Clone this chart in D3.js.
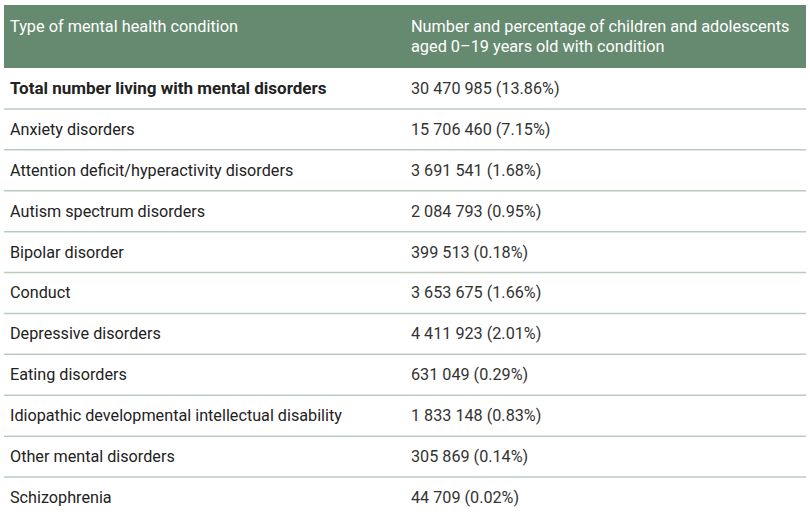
<!DOCTYPE html><html><head><meta charset="utf-8"><script src="https://cdn.jsdelivr.net/npm/d3@7"></script>
<style>body{margin:0;background:#fff}</style></head><body><svg id="c" width="810" height="520"></svg>
<script>
const headers = ["Type of mental health condition", ["Number and percentage of children and adolescents","aged 0–19 years old with condition"]];
const conditions = ["Total number living with mental disorders","Anxiety disorders","Attention deficit/hyperactivity disorders","Autism spectrum disorders","Bipolar disorder","Conduct","Depressive disorders","Eating disorders","Idiopathic developmental intellectual disability","Other mental disorders","Schizophrenia"];
const counts = ["30 470 985","15 706 460","3 691 541","2 084 793","399 513","3 653 675","4 411 923","631 049","1 833 148","305 869","44 709"];
const percents = ["13.86%","7.15%","1.68%","0.95%","0.18%","1.66%","2.01%","0.29%","0.83%","0.14%","0.02%"];
const svg = d3.select("#c");
const font = "Roboto, 'Open Sans', sans-serif";
svg.append("rect").attr("x",4).attr("y",5).attr("width",802).attr("height",63).attr("fill","#668a6f");
svg.append("text").attr("x",10).attr("y",32).attr("fill","#fff").attr("font-family",font).attr("font-size",16.3).text(headers[0]);
headers[1].forEach((t,i)=>svg.append("text").attr("x",411).attr("y",32+i*20).attr("fill","#fff").attr("font-family",font).attr("font-size",16.3).text(t));
const y = d3.scaleBand().domain(d3.range(conditions.length)).range([68,518]);
const g = svg.selectAll("g.row").data(conditions).join("g").attr("transform",(d,i)=>`translate(0,${y(i)})`);
g.append("text").attr("x",10).attr("y",y.bandwidth()/2+5.5).attr("font-family",font).attr("font-size",(d,i)=>i===0?17:16.2)
 .attr("fill","#222").attr("font-weight",(d,i)=>i===0?"bold":null).text(d=>d);
g.append("text").attr("x",411).attr("y",y.bandwidth()/2+5.5).attr("font-family",font).attr("font-size",16.2)
 .attr("fill","#333").text((d,i)=>`${counts[i]} (${percents[i]})`);
g.filter((d,i)=>i<conditions.length-1).append("line").attr("x1",4).attr("x2",806).attr("y1",y.bandwidth()).attr("y2",y.bandwidth())
 .attr("stroke","#b9cbbd").attr("stroke-width",1.5);
</script></body></html>
